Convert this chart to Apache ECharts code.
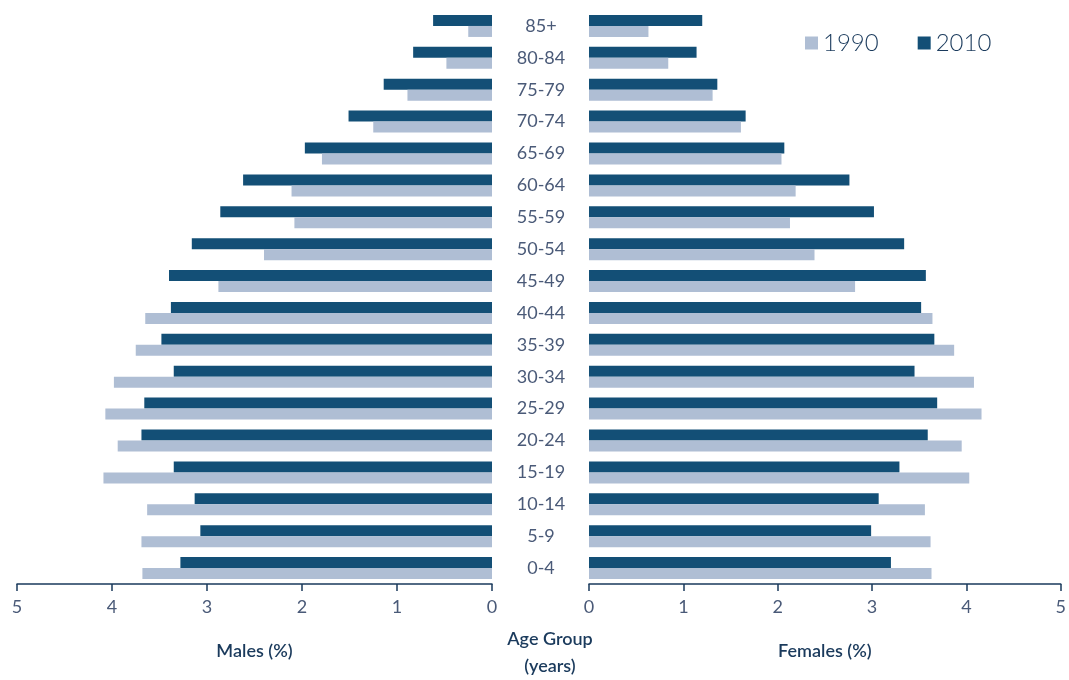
<!DOCTYPE html>
<html>
<head>
<meta charset="utf-8">
<script src="https://cdn.jsdelivr.net/npm/echarts@6/dist/echarts.min.js"></script>
<style>
  html, body { margin: 0; padding: 0; background: #fff; }
  #chart { width: 1069px; height: 680px; }
</style>
</head>
<body>
<div id="chart"></div>
<script>
// age groups, bottom to top
var ageGroups = ['0-4', '5-9', '10-14', '15-19', '20-24', '25-29', '30-34', '35-39', '40-44',
                 '45-49', '50-54', '55-59', '60-64', '65-69', '70-74', '75-79', '80-84', '85+'];

var males1990   = [3.68, 3.69, 3.63, 4.09, 3.94, 4.07, 3.98, 3.75, 3.65, 2.88, 2.40, 2.08, 2.11, 1.79, 1.25, 0.89, 0.48, 0.25];
var males2010   = [3.28, 3.07, 3.13, 3.35, 3.69, 3.66, 3.35, 3.48, 3.38, 3.40, 3.16, 2.86, 2.62, 1.97, 1.51, 1.14, 0.83, 0.62];
var females1990 = [3.63, 3.62, 3.56, 4.03, 3.95, 4.16, 4.08, 3.87, 3.64, 2.82, 2.39, 2.13, 2.19, 2.04, 1.61, 1.31, 0.84, 0.63];
var females2010 = [3.20, 2.99, 3.07, 3.29, 3.59, 3.69, 3.45, 3.66, 3.52, 3.57, 3.34, 3.02, 2.76, 2.07, 1.66, 1.36, 1.14, 1.20];

var xTicks = [0, 1, 2, 3, 4, 5];

var navy = '#134f76';
var light = '#afbed4';
var textColor = '#4a5a78';
var axisColor = '#1a3a5c';
var font = 'Lato';

function valueAxis(idx, inverse, name) {
    return {
        type: 'value',
        gridIndex: idx,
        inverse: inverse,
        min: xTicks[0],
        max: xTicks[xTicks.length - 1],
        interval: 1,
        splitLine: { show: false },
        axisLine: { show: true, lineStyle: { color: axisColor, width: 1.5 } },
        axisTick: { show: true, inside: false, length: 7, lineStyle: { color: axisColor, width: 1.5 } },
        axisLabel: { color: textColor, fontSize: 18, fontFamily: font, margin: 14 },
        name: name,
        nameLocation: 'middle',
        nameGap: 58,
        nameTextStyle: { color: axisColor, fontSize: 18, fontWeight: 600, fontFamily: font }
    };
}

var option = {
    animation: false,
    legend: {
        data: ['1990', '2010'],
        left: 800,
        top: 26,
        icon: 'rect',
        itemWidth: 13,
        itemHeight: 13,
        itemGap: 39,
        textStyle: { color: axisColor, fontSize: 24, fontFamily: font, fontWeight: 300 }
    },
    title: {
        text: 'Age Group\n(years)',
        left: 545,
        top: 621,
        textAlign: 'center',
        textStyle: { color: axisColor, fontSize: 18, fontWeight: 600, fontFamily: font, lineHeight: 27 }
    },
    grid: [
        { left: 17, right: 577, top: 10, bottom: 96 },
        { left: 589, right: 5, top: 10, bottom: 96 }
    ],
    xAxis: [
        valueAxis(0, true, 'Males (%)'),
        valueAxis(1, false, 'Females (%)')
    ],
    yAxis: [
        {
            type: 'category',
            gridIndex: 0,
            position: 'right',
            data: ageGroups,
            axisLine: { show: false },
            axisTick: { show: false },
            axisLabel: { align: 'center', margin: 49, color: textColor, fontSize: 18, fontFamily: font }
        },
        {
            type: 'category',
            gridIndex: 1,
            data: ageGroups,
            axisLine: { show: false },
            axisTick: { show: false },
            axisLabel: { show: false }
        }
    ],
    // 2010 first so it sits above 1990 within each age group
    series: [
        { name: '2010', type: 'bar', xAxisIndex: 0, yAxisIndex: 0, data: males2010,
          barWidth: 11, barGap: '0%', itemStyle: { color: navy } },
        { name: '1990', type: 'bar', xAxisIndex: 0, yAxisIndex: 0, data: males1990,
          barWidth: 11, barGap: '0%', itemStyle: { color: light } },
        { name: '2010', type: 'bar', xAxisIndex: 1, yAxisIndex: 1, data: females2010,
          barWidth: 11, barGap: '0%', itemStyle: { color: navy } },
        { name: '1990', type: 'bar', xAxisIndex: 1, yAxisIndex: 1, data: females1990,
          barWidth: 11, barGap: '0%', itemStyle: { color: light } }
    ]
};

var chart = echarts.init(document.getElementById('chart'));
chart.setOption(option);
</script>
</body>
</html>
